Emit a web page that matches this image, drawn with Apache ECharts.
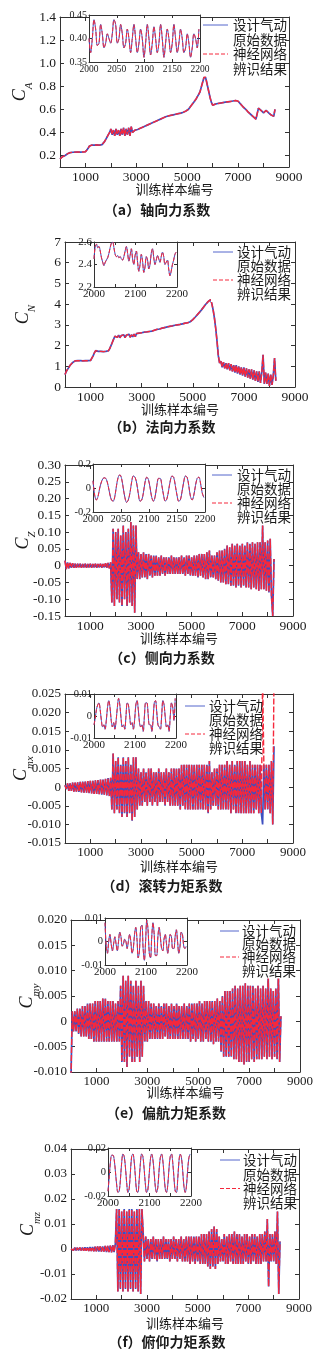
<!DOCTYPE html>
<html>
<head>
<meta charset="utf-8">
<script src="https://cdn.jsdelivr.net/npm/echarts@6.0.0/dist/echarts.min.js"></script>
<style>
  html, body { margin: 0; padding: 0; background: #fff; }
  #chart { width: 330px; height: 1353px; }
</style>
</head>
<body>
<div id="chart"></div>
<script>
// main plots: one value every 50 training samples, starting at sample 0
const SAMPLE_STEP = 50;
// zoomed windows: one value every 3 samples, starting at sample 2000
const ZOOM_START = 2000;
const ZOOM_STEP = 3;

const caMain = [
  0.17,0.18,0.19,0.195,0.20,0.21,0.215,0.22,0.225,0.23, 0.228,0.232,0.229,0.231,0.23,0.232,0.229,0.231,0.23,0.233,
  0.232,0.24,0.26,0.28,0.295,0.29,0.293,0.29,0.292,0.291, 0.293,0.29,0.292,0.294,0.30,0.32,0.34,0.36,0.38,0.40,
  0.43,0.38,0.42,0.37,0.43,0.38,0.42,0.37,0.43,0.38, 0.44,0.37,0.43,0.38,0.44,0.37,0.45,0.40,0.41,0.42,
  0.42,0.425,0.43,0.435,0.44,0.445,0.45,0.455,0.46,0.465, 0.47,0.475,0.48,0.485,0.49,0.495,0.50,0.505,0.51,0.515,
  0.52,0.525,0.53,0.535,0.54,0.542,0.545,0.547,0.55,0.552, 0.555,0.557,0.56,0.562,0.565,0.567,0.57,0.575,0.58,0.585,
  0.59,0.60,0.615,0.63,0.645,0.66,0.675,0.69,0.71,0.73, 0.75,0.79,0.83,0.87,0.89,0.85,0.80,0.75,0.70,0.66,
  0.635,0.64,0.645,0.648,0.65,0.652,0.654,0.656,0.658,0.66, 0.662,0.664,0.665,0.667,0.668,0.67,0.672,0.674,0.676,0.678,
  0.67,0.655,0.645,0.635,0.62,0.61,0.60,0.59,0.575,0.565, 0.555,0.545,0.535,0.525,0.515,0.505,0.61,0.60,0.59,0.58,
  0.57,0.56,0.59,0.58,0.57,0.56,0.55,0.545,0.54,0.60
];
const cnMain = [
  0.6,0.75,0.85,0.95,1.05,1.12,1.18,1.22,1.26,1.28, 1.27,1.29,1.27,1.28,1.26,1.29,1.27,1.28,1.27,1.29,
  1.28,1.35,1.5,1.65,1.76,1.73,1.72,1.74,1.72,1.73, 1.71,1.74,1.72,1.73,1.75,1.85,2.0,2.15,2.3,2.45,
  2.5,2.4,2.5,2.38,2.48,2.4,2.52,2.38,2.5,2.42, 2.55,2.4,2.52,2.42,2.55,2.43,2.58,2.5,2.6,2.52,
  2.62,2.55,2.65,2.58,2.66,2.6,2.68,2.62,2.7,2.68, 2.74,2.72,2.78,2.76,2.8,2.8,2.84,2.83,2.87,2.86,
  2.9,2.9,2.93,2.92,2.95,2.96,2.98,2.97,3.0,3.0, 3.02,3.03,3.05,3.05,3.08,3.07,3.1,3.12,3.15,3.2,
  3.25,3.3,3.38,3.45,3.52,3.6,3.66,3.75,3.82,3.9, 3.98,4.05,4.12,4.2,4.22,4.0,3.7,3.3,2.8,2.2,
  1.5,1.15,1.25,0.95,1.2,0.9,1.15,0.85,1.15,0.8, 1.1,0.75,1.05,0.7,1.05,0.65,1.0,0.6,0.95,0.55,
  0.95,0.5,0.9,0.45,0.85,0.4,0.85,0.35,0.8,0.3, 0.75,0.25,0.75,0.2,0.7,1.55,0.15,0.7,0.15,0.65,
  0.05,0.6,0.1,0.55,1.4,0.3
];
const czMain = [
  0.015,-0.01,0.01,-0.008,0.008,-0.006,0.007,-0.006,0.006,-0.006, 0.006,-0.005,0.006,-0.006,0.005,-0.005,0.006,-0.006,0.005,-0.005,
  0.006,-0.006,0.005,-0.005,0.006,-0.006,0.005,-0.005,0.006,-0.006, 0.005,-0.005,0.007,-0.006,0.008,-0.008,0.01,-0.11,0.11,-0.12,
  0.10,-0.10,0.11,-0.11,0.09,-0.12,0.12,-0.10,0.10,-0.12, 0.11,-0.11,0.13,-0.12,0.12,-0.14,0.12,-0.04,0.04,-0.04,
  0.035,-0.035,0.04,-0.035,0.035,-0.04,0.035,-0.03,0.03,-0.035, 0.03,-0.03,0.03,-0.03,0.025,-0.03,0.03,-0.025,0.025,-0.03,
  0.025,-0.025,0.025,-0.025,0.03,-0.025,0.025,-0.025,0.025,-0.025, 0.025,-0.025,0.03,-0.025,0.025,-0.03,0.03,-0.025,0.03,-0.03,
  0.025,-0.03,0.03,-0.03,0.03,-0.035,0.035,-0.03,0.035,-0.035, 0.035,-0.04,0.04,-0.04,0.045,-0.035,0.03,-0.035,0.03,-0.04,
  0.04,-0.045,0.045,-0.05,0.045,-0.05,0.05,-0.055,0.06,-0.055, 0.055,-0.06,0.065,-0.06,0.06,-0.065,0.065,-0.06,0.06,-0.065,
  0.065,-0.06,0.06,-0.065,0.07,-0.065,0.065,-0.07,0.07,-0.065, 0.065,-0.07,0.07,-0.075,0.07,-0.07,0.12,-0.07,0.07,-0.075,
  0.075,-0.08,0.08,-0.09,-0.15,0.02
];
const cmxMain = [
  0.0005,-0.0005,0.001,-0.001,0.001,-0.001,0.0012,-0.0012,0.0012,-0.0012, 0.0013,-0.0013,0.0014,-0.0014,0.0015,-0.0015,0.0015,-0.0015,0.0016,-0.0016,
  0.0017,-0.0017,0.0017,-0.0018,0.0018,-0.0018,0.0019,-0.0019,0.002,-0.002, 0.002,-0.002,0.0022,-0.0022,0.0024,-0.0024,0.0025,-0.006,0.009,-0.007,
  0.007,-0.006,0.008,-0.007,0.006,-0.008,0.008,-0.007,0.007,-0.008, 0.008,-0.007,0.006,-0.009,0.008,-0.008,0.008,-0.006,0.005,-0.005,
  0.004,-0.005,0.005,-0.004,0.004,-0.005,0.005,-0.004,0.005,-0.005, 0.004,-0.004,0.004,-0.005,0.005,-0.004,0.004,-0.004,0.004,-0.005,
  0.005,-0.004,0.004,-0.005,0.005,-0.005,0.005,-0.005,0.005,-0.005, 0.005,-0.006,0.006,-0.005,0.006,-0.006,0.006,-0.006,0.006,-0.006,
  0.006,-0.006,0.006,-0.006,0.006,-0.006,0.006,-0.006,0.006,-0.006, 0.006,-0.006,0.006,-0.007,0.007,-0.006,0.004,-0.005,0.005,-0.005,
  0.005,-0.006,0.006,-0.006,0.006,-0.006,0.006,-0.006,0.007,-0.006, 0.006,-0.007,0.007,-0.006,0.006,-0.007,0.007,-0.007,0.007,-0.007,
  0.007,-0.007,0.007,-0.007,0.006,-0.007,0.007,-0.007,0.006,-0.007, 0.006,-0.006,0.006,-0.007,0.006,-0.007,-0.010,0.006,-0.006,0.006,
  -0.006,0.006,-0.007,0.007,-0.010,0.011
];
// network output outliers in the roll moment plot: [sample, value]
const cmxNetSpikes = [[7800, 0.03], [8250, 0.03]];
const cmyMain = [
  -0.011,0.002,-0.002,0.002,-0.002,0.0025,-0.0025,0.0025,-0.003,0.003, -0.003,0.003,-0.003,0.0035,-0.0035,0.0035,-0.0035,0.0035,-0.004,0.004,
  -0.004,0.004,-0.004,0.004,-0.004,0.0045,-0.004,0.0045,-0.004,0.004, -0.004,0.004,-0.004,0.004,-0.004,0.0035,-0.004,0.004,-0.004,0.007,
  -0.008,0.009,-0.008,0.008,-0.009,0.009,-0.007,0.008,-0.008,0.007, -0.008,0.008,-0.007,0.007,-0.008,0.008,-0.007,0.007,-0.004,0.004,
  -0.004,0.004,-0.0035,0.0035,-0.0035,0.0035,-0.0035,0.003,-0.0035,0.0035, -0.0035,0.003,-0.0035,0.0035,-0.003,0.0035,-0.0035,0.003,-0.0035,0.0035,
  -0.0035,0.003,-0.0035,0.0035,-0.0035,0.003,-0.0035,0.003,-0.0035,0.0035, -0.0035,0.003,-0.0035,0.0035,-0.004,0.0035,-0.0035,0.0035,-0.004,0.0035,
  -0.0035,0.004,-0.004,0.0035,-0.004,0.004,-0.0035,0.004,-0.004,0.004, -0.004,0.004,-0.0045,0.004,-0.004,0.0045,-0.004,0.004,-0.006,0.005,
  -0.007,0.006,-0.007,0.006,-0.007,0.006,-0.007,0.0065,-0.0075,0.007, -0.0075,0.0065,-0.008,0.007,-0.008,0.007,-0.0085,0.0075,-0.008,0.007,
  -0.008,0.007,-0.0075,0.007,-0.008,0.0065,-0.0075,0.007,-0.0075,0.0065, -0.0075,0.007,-0.007,0.0065,-0.0075,0.0095,-0.007,0.0065,-0.0075,0.006,
  -0.007,0.0065,-0.0075,0.0095,-0.008,0.001
];
const cmzMain = [
  0.0,0.0005,-0.0005,0.0005,-0.0005,0.0005,-0.0006,0.0006,-0.0006,0.0006, -0.0007,0.0007,-0.0007,0.0007,-0.0008,0.0008,-0.0008,0.0008,-0.0009,0.0009,
  -0.0009,0.001,-0.001,0.001,-0.001,0.001,-0.001,0.0012,-0.0012,0.0012, -0.0012,0.0013,-0.0013,0.0015,-0.0012,0.002,0.016,-0.017,0.016,-0.016,
  0.015,-0.017,0.016,-0.016,0.015,-0.017,0.016,-0.016,0.016,-0.017, 0.015,-0.016,0.016,-0.017,0.016,-0.018,0.016,0.006,-0.005,0.005,
  -0.004,0.004,-0.005,0.004,-0.004,0.005,-0.004,0.004,-0.005,0.004, -0.004,0.004,-0.004,0.005,-0.004,0.004,-0.004,0.004,-0.005,0.004,
  -0.004,0.005,-0.004,0.004,-0.005,0.004,-0.004,0.005,-0.005,0.004, -0.005,0.005,-0.005,0.005,-0.006,0.005,-0.005,0.005,-0.006,0.005,
  -0.005,0.005,-0.006,0.006,-0.006,0.006,-0.006,0.006,-0.007,0.007, -0.008,0.008,-0.007,0.009,-0.008,0.008,-0.006,0.005,-0.005,0.004,
  -0.005,0.006,-0.006,0.005,-0.006,0.006,-0.005,0.006,-0.006,0.007, -0.006,0.006,-0.006,0.006,-0.006,0.005,-0.006,0.006,-0.005,0.006,
  -0.006,0.005,-0.006,0.006,-0.005,0.006,-0.006,0.005,-0.006,0.006, -0.006,0.006,-0.005,0.007,-0.005,0.012,-0.015,0.006,-0.005,0.006,
  -0.005,0.007,-0.006,0.015,-0.018,0.003
];

const caZoom = [
  0.40,0.37,0.40,0.44,0.42,0.385,0.39,0.43,0.41,0.38, 0.39,0.41,0.40,0.39,0.41,0.44,0.43,0.39,0.40,0.43,
  0.41,0.38,0.39,0.42,0.40,0.37,0.40,0.43,0.40,0.37, 0.39,0.42,0.40,0.36,0.39,0.43,0.40,0.365,0.39,0.425,
  0.40,0.37,0.39,0.43,0.40,0.36,0.39,0.42,0.40,0.37, 0.39,0.43,0.40,0.37,0.39,0.42,0.40,0.37,0.38,0.41,
  0.39,0.36,0.38,0.41,0.40,0.38,0.42
];
const cnZoom = [
  2.45,2.56,2.58,2.55,2.56,2.52,2.46,2.42,2.39,2.42, 2.44,2.46,2.50,2.55,2.59,2.60,2.55,2.49,2.47,2.48,
  2.46,2.47,2.45,2.44,2.47,2.52,2.56,2.50,2.43,2.48, 2.54,2.45,2.40,2.48,2.52,2.42,2.34,2.40,2.49,2.43,
  2.33,2.38,2.47,2.44,2.36,2.40,2.50,2.54,2.46,2.40, 2.44,2.48,2.45,2.42,2.47,2.51,2.47,2.40,2.42,2.44,
  2.36,2.30,2.34,2.40,2.44,2.49,2.51
];
const czZoom = [
  0.06,-0.06,-0.10,-0.07,0.0,0.05,0.08,0.085,0.07,0.02, -0.05,-0.10,-0.11,-0.07,0.02,0.09,0.11,0.08,0.0,-0.08,
  -0.12,-0.10,-0.04,0.05,0.10,0.09,0.04,-0.05,-0.11,-0.10, -0.04,0.05,0.09,0.07,0.0,-0.08,-0.11,-0.07,0.02,0.08,
  0.08,0.02,-0.06,-0.11,-0.09,-0.02,0.06,0.10,0.09,0.02, -0.06,-0.11,-0.10,-0.03,0.05,0.10,0.09,0.02,-0.07,-0.10,
  -0.06,0.02,0.08,0.09,0.04,-0.04,-0.08
];
const cmxZoom = [
  -0.004,-0.001,0.003,0.005,0.006,0.003,-0.002,-0.005,-0.004,-0.006, -0.002,0.004,0.007,0.004,-0.002,-0.005,-0.003,-0.006,-0.002,0.004,
  0.008,0.005,-0.001,-0.005,-0.004,-0.006,0.0,0.006,0.005,0.0, -0.004,-0.003,-0.006,-0.002,0.005,0.007,0.003,-0.003,-0.005,-0.004,
  -0.007,0.0,0.006,0.006,0.001,-0.004,-0.004,-0.007,-0.002,0.006, 0.007,0.002,-0.004,-0.005,-0.006,0.0,0.007,0.005,-0.001,-0.005,
  -0.004,-0.007,0.0,0.006,0.004,-0.002,0.008
];
const cmyZoom = [
  0.008,-0.002,-0.005,0.0,0.003,-0.001,-0.004,-0.001,0.002,-0.001, -0.004,0.0,0.004,0.002,-0.002,-0.001,0.001,0.0,-0.003,0.0,
  0.003,0.0,-0.005,-0.003,0.003,0.006,0.001,-0.007,-0.004,0.006, 0.007,-0.003,-0.008,0.0,0.009,0.005,-0.005,-0.007,0.002,0.008,
  0.003,-0.006,-0.006,0.002,0.006,0.002,-0.003,-0.004,0.001,0.003, -0.001,-0.005,-0.001,0.003,0.002,-0.003,-0.003,0.002,0.005,0.0,
  -0.005,-0.002,0.004,0.003,-0.002,-0.003,-0.002
];
const cmzZoom = [
  -0.016,-0.004,0.009,0.014,0.014,0.010,0.0,-0.011,-0.017,-0.016, -0.006,0.008,0.015,0.013,0.004,-0.009,-0.017,-0.014,0.0,0.013,
  0.015,0.009,-0.004,-0.016,-0.017,-0.007,0.007,0.015,0.013,0.003, -0.010,-0.017,-0.015,-0.003,0.010,0.015,0.011,0.0,-0.012,-0.017,
  -0.013,0.001,0.012,0.015,0.010,-0.002,-0.014,-0.017,-0.011,0.003, 0.013,0.015,0.008,-0.005,-0.016,-0.017,-0.006,0.009,0.015,0.012,
  0.001,-0.012,-0.017,-0.012,0.002,0.012,0.015
];

// tick values
const mainXTicks = [1000, 2000, 3000, 4000, 5000, 6000, 7000, 8000, 9000];
const mainXLabels = [1000, 3000, 5000, 7000, 9000];
const zoomXTicks = [2000, 2050, 2100, 2150, 2200];
const zoomXLabelsFine = [2000, 2050, 2100, 2150, 2200];
const zoomXLabelsCoarse = [2000, 2100, 2200];

const caTicks = [0.2, 0.4, 0.6, 0.8, 1.0, 1.2, 1.4];
const cnTicks = [0, 1, 2, 3, 4, 5, 6, 7];
const czTicks = [-0.15, -0.1, -0.05, 0, 0.05, 0.1, 0.15, 0.2, 0.25, 0.3];
const cmxTicks = [-0.015, -0.01, -0.005, 0, 0.005, 0.01, 0.015, 0.02, 0.025];
const cmyTicks = [-0.01, -0.005, 0, 0.005, 0.01, 0.015, 0.02];
const cmzTicks = [-0.02, -0.01, 0, 0.01, 0.02, 0.03, 0.04];
const caZoomTicks = [0.35, 0.4, 0.45];
const cnZoomTicks = [2.2, 2.4, 2.6];
const czZoomTicks = [-0.2, 0, 0.2];
const cmxZoomTicks = [-0.01, 0, 0.01];
const cmyZoomTicks = [-0.01, 0, 0.01];
const cmzZoomTicks = [-0.02, 0, 0.02];

const seriesNames = ['设计气动原始数据', '神经网络辨识结果'];
const legendLines = [['设计气动', '原始数据'], ['神经网络', '辨识结果']];
const xAxisTitle = '训练样本编号';
const ySubscripts = ['A', 'N', 'Z', 'mx', 'my', 'mz'];
const captions = ['（a）轴向力系数', '（b）法向力系数', '（c）侧向力系数',
                  '（d）滚转力矩系数', '（e）偏航力矩系数', '（f）俯仰力矩系数'];

const panels = [
  { main: caMain, zoom: caZoom, yMin: 0.1, yMax: 1.4, yTicks: caTicks, yDig: 1,
    zMin: 0.35, zMax: 0.45, zTicks: caZoomTicks, zDig: 2, zXLabels: zoomXLabelsFine, spikes: [] },
  { main: cnMain, zoom: cnZoom, yMin: 0, yMax: 7, yTicks: cnTicks, yDig: 0,
    zMin: 2.2, zMax: 2.6, zTicks: cnZoomTicks, zDig: 1, zXLabels: zoomXLabelsCoarse, spikes: [] },
  { main: czMain, zoom: czZoom, yMin: -0.15, yMax: 0.3, yTicks: czTicks, yDig: 2,
    zMin: -0.2, zMax: 0.2, zTicks: czZoomTicks, zDig: 1, zXLabels: zoomXLabelsFine, spikes: [] },
  { main: cmxMain, zoom: cmxZoom, yMin: -0.015, yMax: 0.025, yTicks: cmxTicks, yDig: 3,
    zMin: -0.01, zMax: 0.01, zTicks: cmxZoomTicks, zDig: 2, zXLabels: zoomXLabelsCoarse, spikes: cmxNetSpikes },
  { main: cmyMain, zoom: cmyZoom, yMin: -0.01, yMax: 0.02, yTicks: cmyTicks, yDig: 3,
    zMin: -0.01, zMax: 0.01, zTicks: cmyZoomTicks, zDig: 2, zXLabels: zoomXLabelsCoarse, spikes: [] },
  { main: cmzMain, zoom: cmzZoom, yMin: -0.02, yMax: 0.04, yTicks: cmzTicks, yDig: 2,
    zMin: -0.02, zMax: 0.02, zTicks: cmzZoomTicks, zDig: 2, zXLabels: zoomXLabelsCoarse, spikes: [] }
];

// page layout (pixels)
const layout = [
  { main: [60, 17, 229, 150], inset: [89, 15, 111, 47], yGap: 30, xGap: 16, tick: 13.5, zTick: 10, zxTick: 9.5,
    cap: [157, 210], leg: { x0: 203, x1: 228, tx: 233, rows: [25, 40, 54, 68.5] } },
  { main: [65, 242, 230, 145], inset: [94, 242, 83, 45], yGap: 32, xGap: 16, tick: 13.5, zTick: 11, zxTick: 11,
    cap: [162, 427], leg: { x0: 213, x1: 233, tx: 237, rows: [252, 265.5, 280, 294] } },
  { main: [65, 465, 228, 151], inset: [93, 464, 112, 48], yGap: 32, xGap: 15.5, tick: 13.5, zTick: 10.5, zxTick: 10.5,
    cap: [162, 658], leg: { x0: 212, x1: 232, tx: 237, rows: [475, 489, 503, 517] } },
  { main: [65, 694, 228, 149], inset: [94, 694, 82, 44], yGap: 34, xGap: 17, tick: 13, zTick: 10.5, zxTick: 11,
    cap: [162, 886], leg: { x0: 185, x1: 205, tx: 209, rows: [706, 719.5, 734, 748] } },
  { main: [71, 920, 229, 152], inset: [105, 918, 82, 47], yGap: 34, xGap: 13.5, tick: 13, zTick: 10.5, zxTick: 11,
    cap: [166, 1113], leg: { x0: 220, x1: 239, tx: 242, rows: [931, 943.5, 957, 970.5] } },
  { main: [71, 1149, 228, 150], inset: [108, 1148, 83, 48], yGap: 33, xGap: 17.5, tick: 13, zTick: 10.5, zxTick: 11,
    cap: [167, 1342], leg: { x0: 220, x1: 240, tx: 243, rows: [1160, 1175, 1188.5, 1202.5] } }
];

const BLUE = '#3d4fc0';
const RED = '#f5283c';
const AXIS = '#333';
const TXT = '#1a1a1a';
const NUM_FONT = '"Liberation Serif", "Times New Roman", serif';
const CJK_FONT = '"Noto Sans CJK SC", sans-serif';

const fmt = (dig) => (v) => (v === 0 ? '0' : v.toFixed(dig));

function axis(o) {
  return {
    type: 'value', gridIndex: o.grid, position: o.pos, min: o.min, max: o.max,
    axisLine: { show: true, onZero: false, lineStyle: { color: AXIS, width: 1 } },
    axisTick: { show: true, inside: true, length: o.tickLen, customValues: o.ticks,
                lineStyle: { color: AXIS, width: 1 } },
    axisLabel: { show: !!o.labels, customValues: o.labels || o.ticks, formatter: o.fmt,
                 fontFamily: NUM_FONT, fontSize: o.size, color: TXT, margin: o.margin,
                 showMinLabel: true, showMaxLabel: true },
    splitLine: { show: false },
    z: o.z
  };
}

const grids = [], xAxes = [], yAxes = [], series = [], graphics = [];

panels.forEach((p, i) => {
  const L = layout[i];
  [['main', L.main], ['inset', L.inset]].forEach(([kind, box]) => {
    const g = grids.length;
    const inset = kind === 'inset';
    grids.push({
      left: box[0], top: box[1], width: box[2], height: box[3],
      containLabel: false, outerBoundsMode: 'none',
      show: inset, backgroundColor: '#fff', borderWidth: 0, z: inset ? 5 : 0
    });
    const xMin = inset ? 2000 : 0, xMax = inset ? 2200 : 9000;
    const xt = inset ? zoomXTicks : mainXTicks;
    const xl = inset ? p.zXLabels : mainXLabels;
    const yMin = inset ? p.zMin : p.yMin, yMax = inset ? p.zMax : p.yMax;
    const yt = inset ? p.zTicks : p.yTicks;
    const yf = fmt(inset ? p.zDig : p.yDig);
    const tl = inset ? 3 : 4, z = inset ? 6 : 0;
    const xb = axis({ grid: g, pos: 'bottom', min: xMin, max: xMax, ticks: xt, labels: xl,
      fmt: (v) => String(v), size: inset ? L.zxTick : L.tick, margin: inset ? 2 : 3, tickLen: tl, z });
    if (!inset) {
      Object.assign(xb, { name: xAxisTitle, nameLocation: 'middle', nameGap: L.xGap, nameMoveOverlap: false,
        nameTextStyle: { fontFamily: CJK_FONT, fontSize: 13, color: TXT } });
    }
    xAxes.push(xb);
    xAxes.push(axis({ grid: g, pos: 'top', min: xMin, max: xMax, ticks: xt, tickLen: tl, z }));
    const yl = axis({ grid: g, pos: 'left', min: yMin, max: yMax, ticks: yt, labels: yt,
      fmt: yf, size: inset ? L.zTick : L.tick, margin: inset ? 2 : 4, tickLen: tl, z });
    if (!inset) {
      Object.assign(yl, {
        name: `{c|C}{s|${ySubscripts[i]}}`, nameLocation: 'middle', nameRotate: 90, nameGap: L.yGap,
        nameMoveOverlap: false,
        nameTextStyle: { rich: {
          c: { fontFamily: NUM_FONT, fontStyle: 'italic', fontSize: 18, color: TXT, lineHeight: 20 },
          s: { fontFamily: NUM_FONT, fontStyle: 'italic', fontSize: 11, color: TXT, lineHeight: 20,
               verticalAlign: 'bottom', padding: [0, 0, -5, 0] }
        } }
      });
    }
    yAxes.push(yl);
    yAxes.push(axis({ grid: g, pos: 'right', min: yMin, max: yMax, ticks: yt, tickLen: tl, z }));

    const vals = inset ? p.zoom : p.main;
    const x0 = inset ? ZOOM_START : 0, dx = inset ? ZOOM_STEP : SAMPLE_STEP;
    const design = vals.map((v, k) => [x0 + k * dx, v]);
    const net = design.map((d) => {
      const s = inset ? null : p.spikes.find((sp) => sp[0] === d[0]);
      return s ? [d[0], s[1]] : d;
    });
    const base = { type: 'line', xAxisIndex: 2 * g, yAxisIndex: 2 * g, symbol: 'none',
                   showSymbol: false, silent: true, clip: true, smooth: inset ? 0.35 : false };
    series.push(Object.assign({}, base, { name: seriesNames[0], data: design, z: inset ? 7 : 2,
      lineStyle: { color: BLUE, width: inset ? 1 : 1.7 }, itemStyle: { color: BLUE } }));
    series.push(Object.assign({}, base, { name: seriesNames[1], data: net, z: inset ? 8 : 3,
      lineStyle: { color: RED, width: inset ? 1 : 1.4, type: inset ? [4, 2] : [6, 2] }, itemStyle: { color: RED } }));
  });

  // legend box (drawn under the inset axes so their labels stay visible)
  const lg = L.leg, right = L.main[0] + L.main[2];
  const top = Math.max(lg.rows[0] - 8, L.main[1] + 5);
  graphics.push({ type: 'rect', z: 4, silent: true,
    shape: { x: lg.x0 - 2, y: top, width: Math.min(lg.tx + 53, right - 5) - lg.x0 + 2, height: lg.rows[3] + 8 - top },
    style: { fill: '#fff' } });
  graphics.push({ type: 'line', z: 11, silent: true,
    shape: { x1: lg.x0, y1: lg.rows[0], x2: lg.x1, y2: lg.rows[0] }, style: { stroke: '#5566cc', lineWidth: 1 } });
  graphics.push({ type: 'line', z: 11, silent: true,
    shape: { x1: lg.x0, y1: lg.rows[2], x2: lg.x1, y2: lg.rows[2] },
    style: { stroke: RED, lineWidth: 1, lineDash: [4, 2] } });
  legendLines.flat().forEach((t, k) => {
    graphics.push({ type: 'text', z: 11, silent: true, x: lg.tx, y: lg.rows[k],
      style: { text: t, fill: TXT, font: `13.5px ${CJK_FONT}`, textAlign: 'left', textVerticalAlign: 'middle' } });
  });
  // caption
  graphics.push({ type: 'text', z: 11, silent: true, x: L.cap[0], y: L.cap[1],
    style: { text: captions[i], fill: TXT, font: `bold 14px ${CJK_FONT}`, textAlign: 'center', textVerticalAlign: 'middle' } });
});

const chart = echarts.init(document.getElementById('chart'), null, { renderer: 'canvas' });
chart.setOption({
  backgroundColor: '#fff',
  animation: false,
  grid: grids,
  xAxis: xAxes,
  yAxis: yAxes,
  series: series,
  graphic: graphics
});
</script>
</body>
</html>
